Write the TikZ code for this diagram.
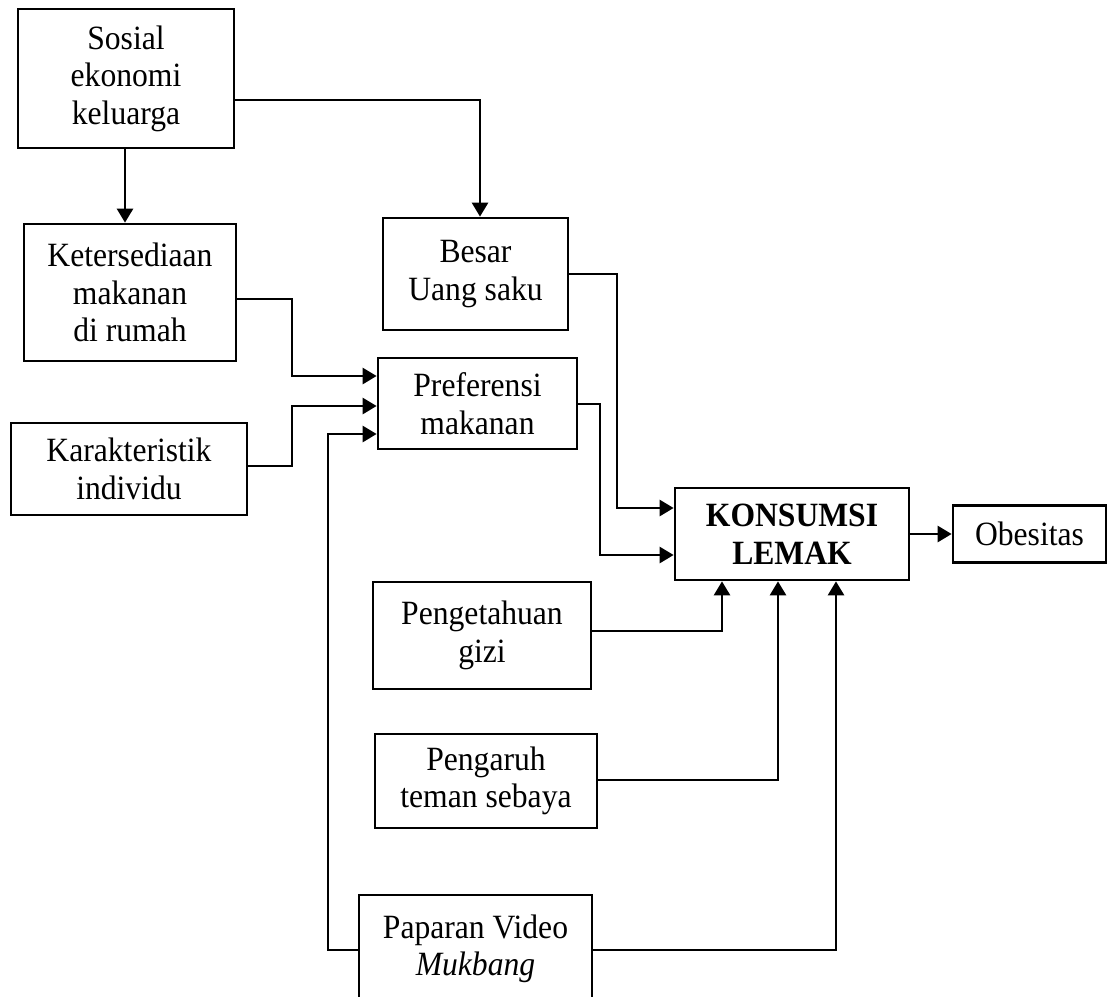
\documentclass[tikz,border=0pt]{standalone}
\usepackage{fontspec}
\setmainfont[FakeStretch=0.93]{Liberation Serif}
\usetikzlibrary{arrows.meta}
\begin{document}
\begin{tikzpicture}[x=1pt,y=-1pt,
  box/.style={draw, line width=2.7pt, rectangle, align=center, inner sep=0pt,
    font=\fontsize{34}{37.5}\selectfont},
  arr/.style={draw, line width=2.6pt, -{Triangle[length=14pt,width=16pt]}}]
\useasboundingbox (0,0) rectangle (1108,996);
\clip (0,0) rectangle (1108,996);
\node[box, minimum width=216pt, minimum height=139pt] (sosial) at (126,78.5) {Sosial\\ekonomi\\keluarga};
\node[box, minimum width=212pt, minimum height=137pt] (keters) at (130,292.5) {Ketersediaan\\makanan\\di rumah};
\node[box, minimum width=185pt, minimum height=112pt] (besar) at (475.5,274) {Besar\\Uang saku};
\node[box, minimum width=199pt, minimum height=91pt] (pref) at (477.5,403.5) {Preferensi\\makanan};
\node[box, minimum width=236pt, minimum height=92pt] (karak) at (129,469) {Karakteristik\\individu};
\node[box, minimum width=234pt, minimum height=92pt, font=\fontsize{34}{37.5}\selectfont\bfseries] (konsumsi) at (792,534) {KONSUMSI\\LEMAK};
\node[box, minimum width=153pt, minimum height=57pt] (obes) at (1029.5,534) {Obesitas};
\node[box, minimum width=218pt, minimum height=107pt] (penget) at (482,635.5) {Pengetahuan\\gizi};
\node[box, minimum width=222pt, minimum height=94pt] (pengar) at (486,781) {Pengaruh\\teman sebaya};
\node[box, minimum width=233pt, minimum height=108pt] (paparan) at (475.5,949) {Paparan Video\\\textit{Mukbang}};
\coordinate (sk) at (125,0);
\coordinate (sb) at (480,100);
\coordinate (kp1) at (292,299);
\coordinate (kp2) at (292,376);
\coordinate (cp1) at (292,466);
\coordinate (cp2) at (292,406);
\coordinate (pp1) at (328,950);
\coordinate (pp2) at (328,434);
\coordinate (bk1) at (617,274);
\coordinate (bk2) at (617,508);
\coordinate (pk1) at (600,404);
\coordinate (pk2) at (600,555);
\coordinate (g1) at (722,631);
\coordinate (t1) at (778,780);
\coordinate (v1) at (836,950);
\coordinate (ob) at (0,534);
\draw[arr] (sosial.south -| sk) -- (keters.north -| sk);
\draw[arr] (sosial.east |- sb) -- (sb) -- (sb |- besar.north);
\draw[arr] (keters.east |- kp1) -- (kp1) -- (kp2) -- (pref.west |- kp2);
\draw[arr] (karak.east |- cp1) -- (cp1) -- (cp2) -- (pref.west |- cp2);
\draw[arr] (paparan.west |- pp1) -- (pp1) -- (pp2) -- (pref.west |- pp2);
\draw[arr] (besar.east |- bk1) -- (bk1) -- (bk2) -- (konsumsi.west |- bk2);
\draw[arr] (pref.east |- pk1) -- (pk1) -- (pk2) -- (konsumsi.west |- pk2);
\draw[arr] (penget.east |- g1) -- (g1) -- (g1 |- konsumsi.south);
\draw[arr] (pengar.east |- t1) -- (t1) -- (t1 |- konsumsi.south);
\draw[arr] (paparan.east |- v1) -- (v1) -- (v1 |- konsumsi.south);
\draw[arr] (konsumsi.east |- ob) -- (obes.west |- ob);
\end{tikzpicture}
\end{document}
